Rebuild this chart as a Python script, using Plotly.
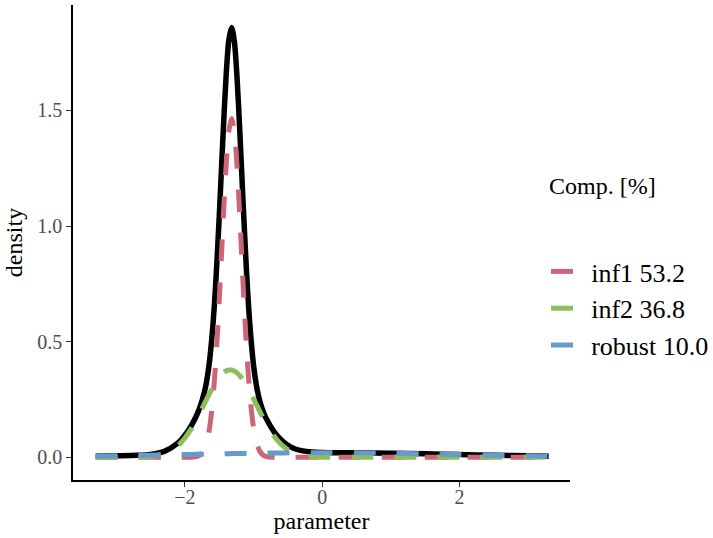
import plotly.graph_objects as go

# ---- data ----
param = [-3.3, -3.0, -2.7, -2.5, -2.3, -2.1, -2.0, -1.9, -1.8, -1.7, -1.65, -1.6,
         -1.55, -1.5, -1.45, -1.4, -1.36, -1.32, -1.28, -1.24, -1.2, -1.15, -1.1,
         -1.05, -1.0, -0.95, -0.9, -0.85, -0.8, -0.7, -0.6, -0.5, -0.4, -0.3,
         -0.15, 0.0, 0.5, 1.0, 1.5, 2.0, 2.5, 3.0, 3.3]

total = [0.0051, 0.0065, 0.0086, 0.0128, 0.0258, 0.0627, 0.0958, 0.1408, 0.2011,
         0.3024, 0.3951, 0.5407, 0.7554, 1.0393, 1.358, 1.647, 1.804, 1.859, 1.800,
         1.640, 1.410, 1.088, 0.790, 0.559, 0.399, 0.298, 0.234, 0.191, 0.159,
         0.110, 0.076, 0.052, 0.037, 0.029, 0.023, 0.021, 0.0194, 0.0177, 0.0151,
         0.0121, 0.0092, 0.0065, 0.0051]

inf1 = [0, 0, 0, 0, 0, 0, 0, 0.0005, 0.0061, 0.047, 0.110, 0.227, 0.416, 0.678,
        0.980, 1.258, 1.410, 1.465, 1.410, 1.258, 1.040, 0.737, 0.463, 0.259,
        0.128, 0.056, 0.022, 0.0077, 0.0024, 0.0001, 0, 0, 0, 0, 0, 0, 0, 0, 0,
        0, 0, 0, 0]

inf2 = [0, 0.0, 0.0006, 0.0036, 0.0155, 0.0512, 0.0837, 0.1276, 0.1817, 0.2413,
        0.2710, 0.2991, 0.3245, 0.3459, 0.3625, 0.3733, 0.3775, 0.3775, 0.3733,
        0.3651, 0.3532, 0.3336, 0.3097, 0.2825, 0.2533, 0.2232, 0.1933, 0.1646,
        0.1377, 0.0916, 0.0567, 0.0328, 0.0177, 0.0089, 0.0028, 0.0008, 0, 0, 0,
        0, 0, 0, 0]

robust = [0.0051, 0.0065, 0.0080, 0.0092, 0.0103, 0.0115, 0.0121, 0.0127, 0.0133,
          0.0139, 0.0142, 0.0145, 0.0148, 0.0151, 0.0154, 0.0157, 0.0158, 0.0161,
          0.0163, 0.0165, 0.0167, 0.0170, 0.0172, 0.0174, 0.0177, 0.0179, 0.0181,
          0.0183, 0.0185, 0.0188, 0.0191, 0.0194, 0.0196, 0.0198, 0.0199, 0.0200,
          0.0194, 0.0177, 0.0151, 0.0121, 0.0092, 0.0065, 0.0051]

comp_names = ["inf1 53.2", "inf2 36.8", "robust 10.0"]
comp_colors = ["#CC6677", "#8CBF5A", "#6699CC"]
x_ticks = [-2, 0, 2]
y_ticks = [0.0, 0.5, 1.0, 1.5]

FONT = "Liberation Serif, Times New Roman, serif"

fig = go.Figure()
fig.add_trace(go.Scatter(x=param, y=total, mode="lines", showlegend=False,
                         line=dict(color="black", width=5.5, shape="spline", smoothing=0.8)))
for name, vals, col in zip(comp_names, [inf1, inf2, robust], comp_colors):
    fig.add_trace(go.Scatter(x=param, y=vals, mode="lines", name="\u2009" + name,
                             line=dict(color=col, width=5, dash="22px,21px",
                                       shape="spline", smoothing=0.8)))

fig.update_layout(
    width=713, height=538,
    margin=dict(l=73, r=143, t=5, b=58, autoexpand=False),
    paper_bgcolor="white", plot_bgcolor="white",
    font=dict(family=FONT, color="black"),
    xaxis=dict(range=[-3.63, 3.61], tickvals=x_ticks, showgrid=False, zeroline=False,
               showline=True, linecolor="black", linewidth=1.5, automargin=False,
               ticks="outside", ticklen=5, tickcolor="#333333", tickwidth=1,
               ticklabelstandoff=-7,
               tickfont=dict(size=20, color="#4D4D4D", family=FONT),
               title=dict(text="parameter", font=dict(size=24, color="black"), standoff=5)),
    yaxis=dict(range=[-0.098, 1.956], tickvals=y_ticks, tickformat=".1f",
               showgrid=False, zeroline=False, automargin=False,
               showline=True, linecolor="black", linewidth=1.5,
               ticks="outside", ticklen=5, tickcolor="#333333", tickwidth=1,
               tickfont=dict(size=20, color="#4D4D4D", family=FONT),
               title=dict(text="density", font=dict(size=24, color="black"), standoff=8)),
    legend=dict(xref="container", yref="container", x=546 / 713, y=1 - 248 / 538,
                xanchor="left", yanchor="top", bgcolor="rgba(0,0,0,0)",
                font=dict(size=26, color="black", family=FONT), itemwidth=30,
                tracegroupgap=0),
    annotations=[dict(text="Comp. [%]", xref="paper", yref="paper",
                      x=(547 - 73) / 497, y=(480 - 186) / 475, xanchor="left",
                      yanchor="middle", showarrow=False,
                      font=dict(size=24, color="black", family=FONT))],
)

fig.write_html("out.html", config={"displayModeBar": False},
               post_script="document.body.style.margin='0';document.body.style.overflow='hidden';")
